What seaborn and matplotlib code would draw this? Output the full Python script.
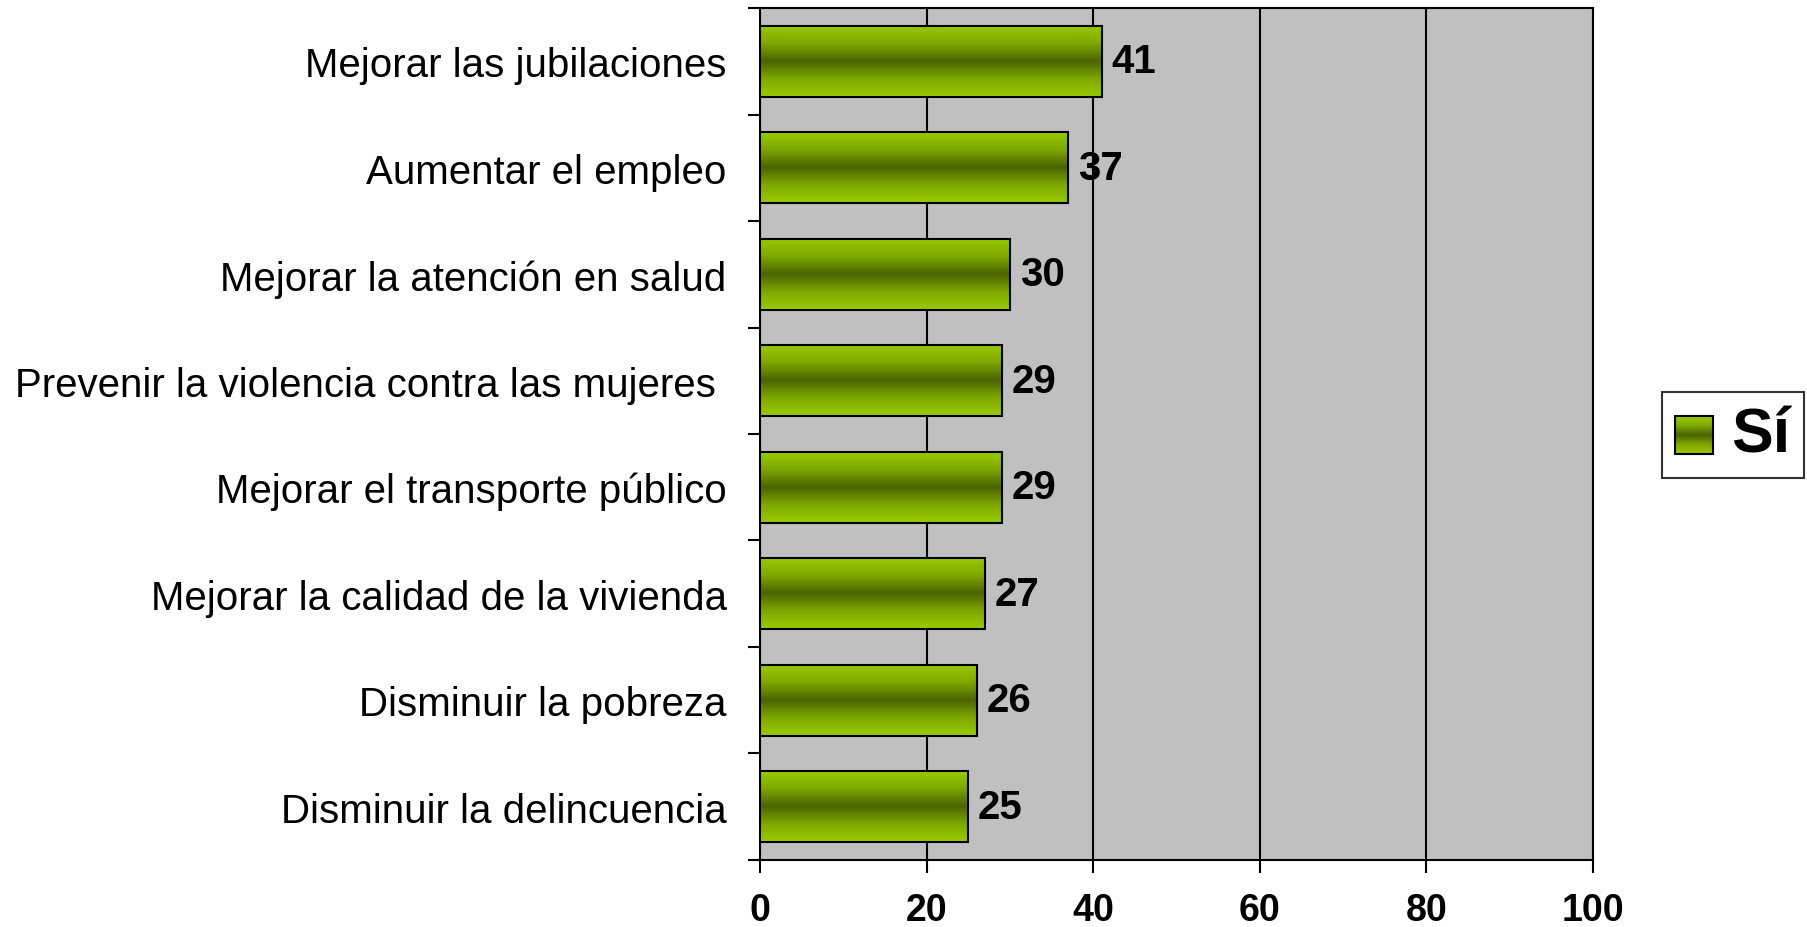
import matplotlib
matplotlib.use("Agg")
import matplotlib.pyplot as plt
import seaborn as sns
import numpy as np
import pandas as pd
from matplotlib.colors import LinearSegmentedColormap
from matplotlib.patches import Rectangle
from matplotlib.image import BboxImage
from matplotlib.transforms import Bbox, TransformedBbox

categories = [
    "Mejorar las jubilaciones",
    "Aumentar el empleo",
    "Mejorar la atención en salud",
    "Prevenir la violencia contra las mujeres ",
    "Mejorar el transporte público",
    "Mejorar la calidad de la vivienda",
    "Disminuir la pobreza",
    "Disminuir la delincuencia",
]
values = [41, 37, 30, 29, 29, 27, 26, 25]
x_ticks = [0, 20, 40, 60, 80, 100]
series_name = "Sí"

sns.set_style("white")
plt.rcParams["font.family"] = ["Liberation Sans", "DejaVu Sans"]
plt.rcParams["text.color"] = "black"
plt.rcParams["xtick.color"] = "black"
plt.rcParams["ytick.color"] = "black"

green = LinearSegmentedColormap.from_list(
    "bargrad", ["#99CC00", "#7FA800", "#4A6400", "#7FA800", "#99CC00"])
grad = np.linspace(0, 1, 256).reshape(-1, 1)

df = pd.DataFrame({"Item": categories, "Pct": values})

fig = plt.figure(figsize=(18.07, 9.28), dpi=100)
ax = fig.add_axes([0.4206, 0.0722, 0.4610, 0.9181])
sns.barplot(data=df, y="Item", x="Pct", orient="h", color="#99CC00",
            width=0.67, edgecolor="black", linewidth=1.5, ax=ax, zorder=3)

# gradient fill clipped to each bar
for bar in ax.patches:
    x0, y0 = bar.get_x(), bar.get_y()
    w, h = bar.get_width(), bar.get_height()
    im = ax.imshow(grad, cmap=green, aspect="auto", interpolation="bicubic",
                   extent=[x0, x0 + w, y0 + h, y0], zorder=3.5)
    im.set_clip_path(bar)
    bar.set_facecolor("none")
    bar.set_zorder(4)

ax.bar_label(ax.containers[0], labels=[str(v) for v in values], padding=7,
             fontsize=29, fontweight="bold", color="black", zorder=5)

ax.set_facecolor("#C0C0C0")
ax.set_xlim(0, 100)
ax.set_ylim(len(categories) - 0.5, -0.5)
ax.set_xticks(x_ticks)
ax.set_xticklabels([str(t) for t in x_ticks], fontsize=27, fontweight="bold")
ax.grid(axis="x", color="black", linewidth=1.5)
ax.grid(axis="y", visible=False)
ax.set_axisbelow(True)
ax.set_xlabel("")
ax.set_ylabel("")

ax.tick_params(axis="x", direction="out", length=9, width=1.5, pad=14,
               bottom=True)
ax.tick_params(axis="y", which="major", length=0, pad=24, labelsize=29)
ax.set_yticks(np.arange(-0.5, len(categories)), minor=True)
ax.tick_params(axis="y", which="minor", direction="out", length=9, width=1.5,
               left=True)
for s in ax.spines.values():
    s.set_color("black")
    s.set_linewidth(1.5)


class GradientHandler:
    def legend_artist(self, legend, orig_handle, fontsize, handlebox):
        x0, y0 = handlebox.xdescent, handlebox.ydescent
        w, h = handlebox.width, handlebox.height
        side = min(w, h)
        tr = handlebox.get_transform()
        bb = TransformedBbox(Bbox.from_bounds(x0, y0, side, side), tr)
        img = BboxImage(bb, cmap=green, interpolation="bicubic")
        img.set_data(grad)
        rect = Rectangle((x0, y0), side, side, facecolor="none",
                         edgecolor="black", linewidth=1.5, transform=tr)
        handlebox.add_artist(img)
        handlebox.add_artist(rect)
        return rect


proxy = Rectangle((0, 0), 1, 1)
leg = fig.legend([proxy], [series_name], handler_map={Rectangle: GradientHandler()},
                 loc="center", bbox_to_anchor=(1733 / 1807, 1 - 436 / 928),
                 prop={"size": 45, "weight": "bold"}, frameon=True, fancybox=False,
                 handlelength=0.6, handleheight=0.6, handletextpad=0.3,
                 borderpad=0.22, borderaxespad=0)
leg.get_frame().set_edgecolor("black")
leg.get_frame().set_linewidth(1.5)

fig.savefig("out.png", dpi=100)
